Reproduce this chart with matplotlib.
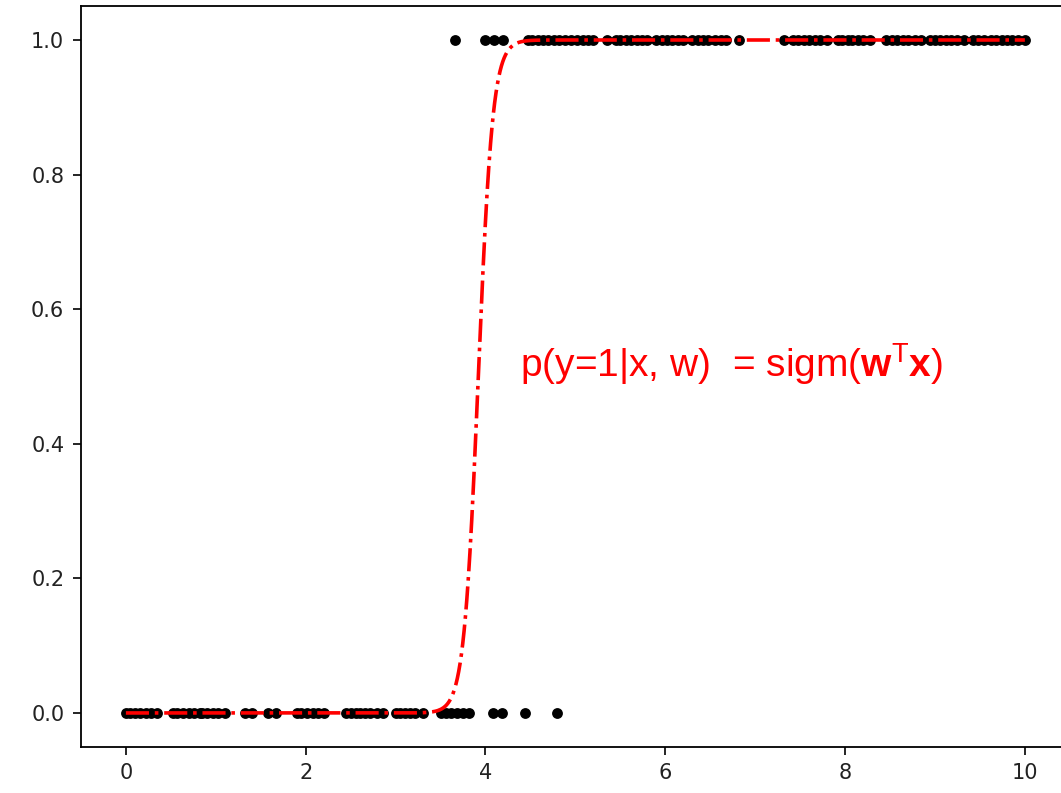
import matplotlib
matplotlib.use('Agg')
import matplotlib.pyplot as plt
import numpy as np

# observed samples, class 0 and class 1
x_neg = [0.0, 0.05, 0.1, 0.16, 0.22, 0.28, 0.35,
         0.52, 0.57, 0.63, 0.7, 0.76, 0.82, 0.85, 0.9, 0.97, 1.03, 1.1,
         1.33, 1.4, 1.58, 1.67,
         1.9, 1.95, 2.02, 2.08, 2.14, 2.2,
         2.45, 2.5, 2.56, 2.6, 2.66, 2.72, 2.79, 2.86,
         3.0, 3.05, 3.1, 3.16, 3.22, 3.3,
         3.5, 3.56, 3.62, 3.68, 3.75, 3.82,
         4.08, 4.18, 4.44, 4.8]
x_pos = [3.66, 3.99, 4.1, 4.2,
         4.47, 4.52, 4.58, 4.64, 4.7, 4.76, 4.82, 4.88, 4.95, 5.02, 5.08, 5.14, 5.2,
         5.35,
         5.45, 5.5, 5.56, 5.62, 5.68, 5.74, 5.8,
         5.9, 5.96, 6.02, 6.08, 6.14, 6.2,
         6.3, 6.36, 6.42, 6.48, 6.55, 6.62, 6.68,
         6.82, 7.32,
         7.42, 7.48, 7.54, 7.6, 7.66, 7.72, 7.8,
         7.92, 7.97, 8.03, 8.08, 8.14, 8.2, 8.28,
         8.45, 8.52, 8.58, 8.64, 8.7, 8.78, 8.85,
         8.95, 9.0, 9.06, 9.12, 9.18, 9.25, 9.32,
         9.42, 9.48, 9.55, 9.62, 9.68,
         9.75, 9.8, 9.86, 9.92, 10.0]

# fitted logistic weights (bias, slope)
w0, w1 = -49.0, 12.5

plt.rcParams['mathtext.fontset'] = 'custom'
plt.rcParams['mathtext.rm'] = 'Liberation Sans'
plt.rcParams['mathtext.it'] = 'Liberation Sans:italic'
plt.rcParams['mathtext.bf'] = 'Liberation Sans:bold'

fig = plt.figure(figsize=(10.61, 7.93), dpi=100)
ax = fig.add_axes([0.0763, 0.0585, 0.932, 0.9335])

ax.plot(x_neg, np.zeros(len(x_neg)), 'o', color='k', ms=7.8, mew=0)
ax.plot(x_pos, np.ones(len(x_pos)), 'o', color='k', ms=7.8, mew=0)

xs = np.linspace(0, 10, 2000)
ax.plot(xs, 1 / (1 + np.exp(-(w0 + w1 * xs))), 'r-.', lw=2.6)

ax.text(4.38, 0.5, r'p(y=1|x, w)  = sigm($\mathbf{w}^{\mathrm{T}}\mathbf{x}$)',
        color='red', fontsize=28, family='Liberation Sans', va='baseline')

ax.set_xlim(-0.5, 10.5)
ax.set_ylim(-0.05, 1.05)
ax.set_xticks([0, 2, 4, 6, 8, 10])
ax.set_yticks([0.0, 0.2, 0.4, 0.6, 0.8, 1.0])
ax.tick_params(labelsize=15, length=6, width=1.2, pad=6, labelcolor='#222222')
for s in ax.spines.values():
    s.set_linewidth(1.3)

fig.savefig('out.png', dpi=100)
